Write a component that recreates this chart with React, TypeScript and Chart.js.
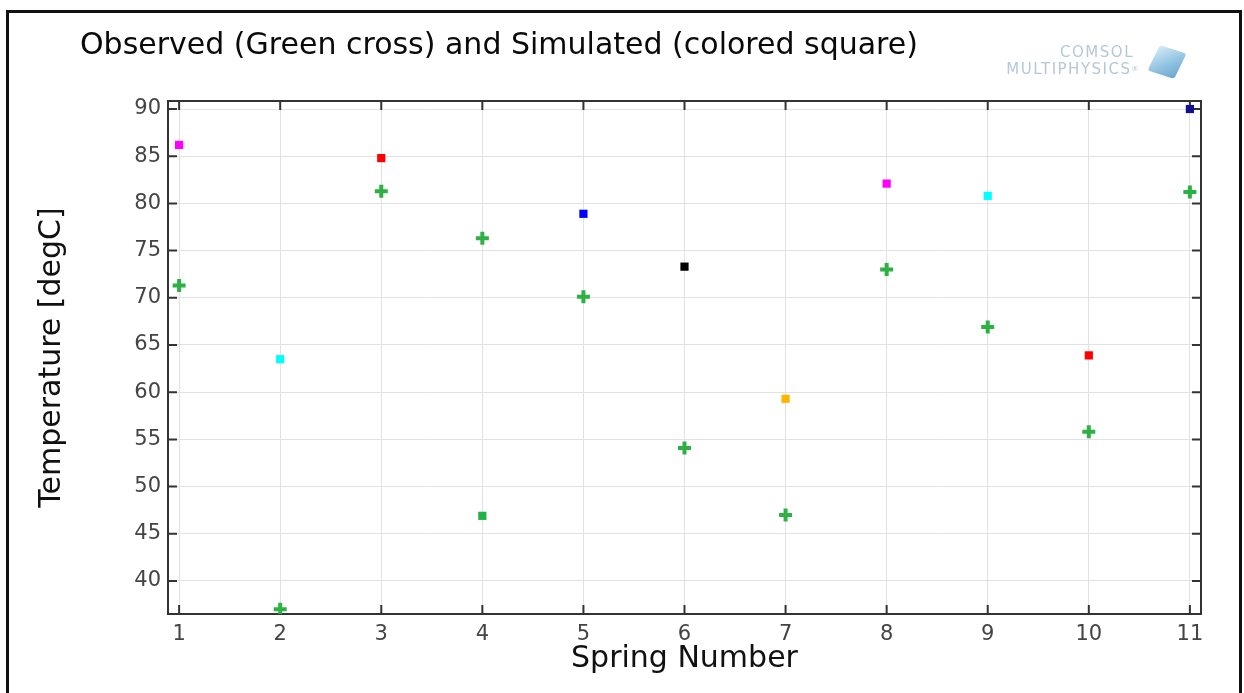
import React, { useEffect, useRef } from 'react';
import { Chart, registerables } from 'chart.js';

Chart.register(...registerables);

const springNumbers = [1, 2, 3, 4, 5, 6, 7, 8, 9, 10, 11];
const observed = [71.3, 37.0, 81.3, 76.3, 70.1, 54.1, 47.0, 73.0, 66.9, 55.8, 81.2];
const simulated = [86.2, 63.5, 84.8, 46.9, 78.9, 73.3, 59.3, 82.1, 80.8, 63.9, 90.0];
const simulatedColors = ['#ff00ff', '#00ffff', '#ff0000', '#22b04a', '#0000ff', '#000000', '#ffb400', '#ff00ff', '#00ffff', '#ff0000', '#12128f'];
const yTicks = [40, 45, 50, 55, 60, 65, 70, 75, 80, 85, 90];
const xTicks = springNumbers;

const FONT = "'DejaVu Sans', sans-serif";

const framePlugin = {
  id: 'frame',
  beforeDatasetsDraw(chart: any) {
    const { ctx, chartArea, scales } = chart;
    const { left, right, top, bottom } = chartArea;
    const x = scales.x;
    const y = scales.y;
    ctx.save();
    ctx.strokeStyle = '#333';
    ctx.lineWidth = 2;
    ctx.strokeRect(left, top, right - left, bottom - top);
    ctx.beginPath();
    const L = 9;
    xTicks.forEach((v) => {
      const px = x.getPixelForValue(v);
      ctx.moveTo(px, bottom);
      ctx.lineTo(px, bottom - L);
      ctx.moveTo(px, top);
      ctx.lineTo(px, top + L);
    });
    yTicks.forEach((v) => {
      const py = y.getPixelForValue(v);
      ctx.moveTo(left, py);
      ctx.lineTo(left + L, py);
      ctx.moveTo(right, py);
      ctx.lineTo(right - L, py);
    });
    ctx.stroke();
    ctx.restore();
  },
};

export default function App() {
  const canvasRef = useRef<HTMLCanvasElement>(null);

  useEffect(() => {
    if (!canvasRef.current) return;
    const chart = new Chart(canvasRef.current, {
      type: 'scatter',
      data: {
        datasets: [
          {
            label: 'Observed',
            data: springNumbers.map((x, i) => ({ x, y: observed[i] })),
            pointStyle: 'cross',
            radius: 6.5,
            borderWidth: 4,
            borderColor: '#2eb045',
            backgroundColor: '#2eb045',
          },
          {
            label: 'Simulated',
            data: springNumbers.map((x, i) => ({ x, y: simulated[i] })),
            pointStyle: 'rect',
            radius: 5.8,
            borderWidth: 0,
            backgroundColor: simulatedColors,
            pointBackgroundColor: simulatedColors,
          },
        ],
      },
      options: {
        animation: false,
        responsive: false,
        events: [],
        layout: { padding: { left: 34, right: 43, top: 101, bottom: 16 } },
        plugins: {
          legend: { display: false },
          tooltip: { enabled: false },
          title: { display: false },
        },
        scales: {
          x: {
            type: 'linear',
            min: 0.89,
            max: 11.11,
            afterBuildTicks: (s: any) => {
              s.ticks = xTicks.map((v) => ({ value: v }));
            },
            afterFit: (s: any) => {
              s.height = 63;
            },
            grid: { color: '#e2e2e2', lineWidth: 1, drawTicks: false },
            border: { display: false },
            ticks: {
              font: { family: FONT, size: 21 },
              color: '#444',
              padding: 8,
              autoSkip: false,
              maxRotation: 0,
            },
            title: {
              display: true,
              text: 'Spring Number',
              font: { family: FONT, size: 30 },
              color: '#111',
              padding: 0,
            },
          },
          y: {
            type: 'linear',
            min: 36.5,
            max: 90.85,
            afterBuildTicks: (s: any) => {
              s.ticks = yTicks.map((v) => ({ value: v }));
            },
            afterFit: (s: any) => {
              s.width = 134;
            },
            grid: { color: '#e2e2e2', lineWidth: 1, drawTicks: false },
            border: { display: false },
            ticks: {
              font: { family: FONT, size: 21 },
              color: '#444',
              padding: 7,
              autoSkip: false,
            },
            title: {
              display: true,
              text: 'Temperature [degC]',
              font: { family: FONT, size: 30 },
              color: '#111',
              padding: 0,
            },
          },
        },
      },
      plugins: [framePlugin],
    } as any);
    return () => chart.destroy();
  }, []);

  return (
    <div style={{ position: 'absolute', left: 0, top: 0, width: 1244, height: 693, overflow: 'hidden', background: '#fff' }}>
      <div
        style={{
          position: 'absolute',
          left: 6,
          top: 10,
          width: 1230,
          height: 720,
          borderLeft: '3px solid #111',
          borderTop: '3px solid #111',
          borderRight: '3px solid #111',
        }}
      />
      <canvas ref={canvasRef} width={1244} height={693} style={{ position: 'absolute', left: 0, top: 0 }} />
      <div
        style={{
          position: 'absolute',
          left: 80,
          top: 25,
          fontFamily: FONT,
          fontSize: 30,
          lineHeight: '38px',
          color: '#0a0a0a',
          whiteSpace: 'nowrap',
        }}
      >
        Observed (Green cross) and Simulated (colored square)
      </div>
      <div
        style={{
          position: 'absolute',
          left: 940,
          top: 44,
          width: 200,
          textAlign: 'right',
          fontFamily: FONT,
          fontSize: 15,
          lineHeight: '17px',
          letterSpacing: '1.5px',
          color: '#b3c8da',
        }}
      >
        <div style={{ paddingRight: 6 }}>COMSOL</div>
        <div>MULTIPHYSICS<span style={{ fontSize: 7, verticalAlign: 'top' }}>®</span></div>
      </div>
      <div
        style={{
          position: 'absolute',
          left: 1153,
          top: 48,
          width: 28,
          height: 28,
          transform: 'rotate(18deg) skewX(-8deg)',
          background: 'linear-gradient(135deg, #d6ebf7 0%, #93c4e2 55%, #6aa5cc 100%)',
          borderRadius: 3,
        }}
      />
    </div>
  );
}
